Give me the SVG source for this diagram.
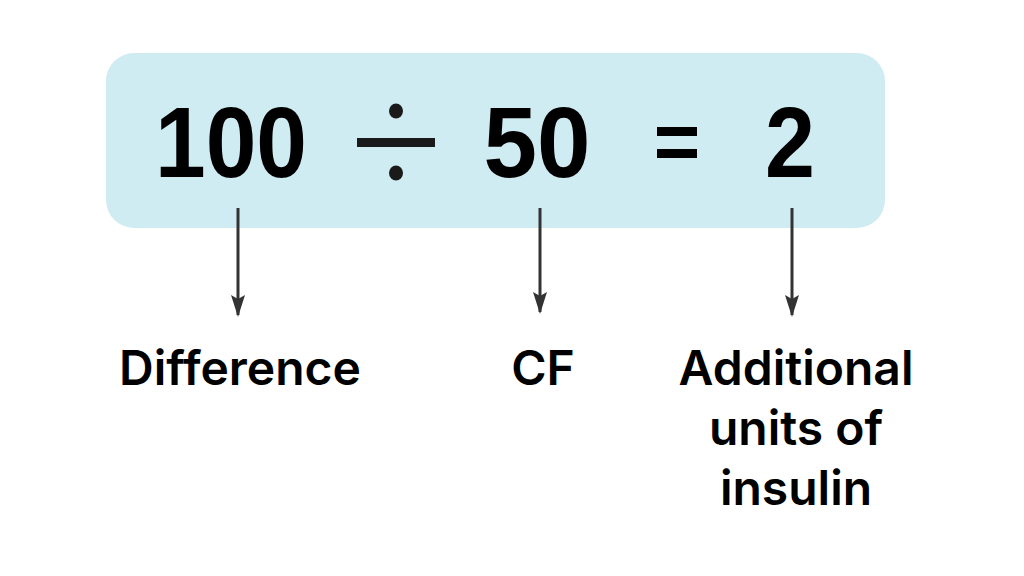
<svg xmlns="http://www.w3.org/2000/svg" width="1024" height="576" viewBox="0 0 1024 576">
<style>
.num{font-family:"Liberation Sans",Arial,sans-serif;font-weight:bold;font-size:100px;fill:#000}
.lbl{font-family:Inter,"Noto Sans",sans-serif;font-weight:600;font-size:48px;fill:#000;text-anchor:middle}
.arr{stroke:#333;stroke-width:3;fill:none}
</style>
<defs>
<marker id="ah" markerWidth="22" markerHeight="14" refX="20" refY="7" orient="auto" markerUnits="userSpaceOnUse" viewBox="0 0 22 14">
<path d="M0,0 L4,7 L0,14 L22,7 Z" fill="#333"/>
</marker>
</defs>
<rect width="1024" height="576" fill="#fff"/>
<g id="equation">
<rect x="106" y="53" width="779" height="175" rx="28" fill="#CFECF3"/>
<text class="num" x="231" y="177" text-anchor="middle" textLength="152" lengthAdjust="spacingAndGlyphs">100</text>
<g id="divide" fill="#1a1a1a">
<rect x="357" y="138" width="78" height="9"/>
<ellipse cx="396" cy="111" rx="7" ry="7.5"/>
<ellipse cx="396" cy="173" rx="7" ry="7.5"/>
</g>
<text class="num" x="537" y="177" text-anchor="middle" textLength="107" lengthAdjust="spacingAndGlyphs">50</text>
<g id="equals" fill="#000">
<rect x="657" y="127" width="40" height="9"/>
<rect x="657" y="149" width="40" height="9"/>
</g>
<text class="num" x="790" y="177" text-anchor="middle" textLength="50" lengthAdjust="spacingAndGlyphs">2</text>
</g>
<g id="connectors">
<line class="arr" x1="238" y1="208" x2="238" y2="315" marker-end="url(#ah)"/>
<line class="arr" x1="540" y1="208" x2="540" y2="312" marker-end="url(#ah)"/>
<line class="arr" x1="792" y1="208" x2="792" y2="315" marker-end="url(#ah)"/>
</g>
<g id="label-difference"><text class="lbl" x="240" y="385">Difference</text></g>
<g id="label-cf"><text class="lbl" x="543" y="385">CF</text></g>
<g id="label-units">
<text class="lbl" x="796" y="385">Additional</text>
<text class="lbl" x="796" y="445">units of</text>
<text class="lbl" x="796" y="505">insulin</text>
</g>
</svg>
